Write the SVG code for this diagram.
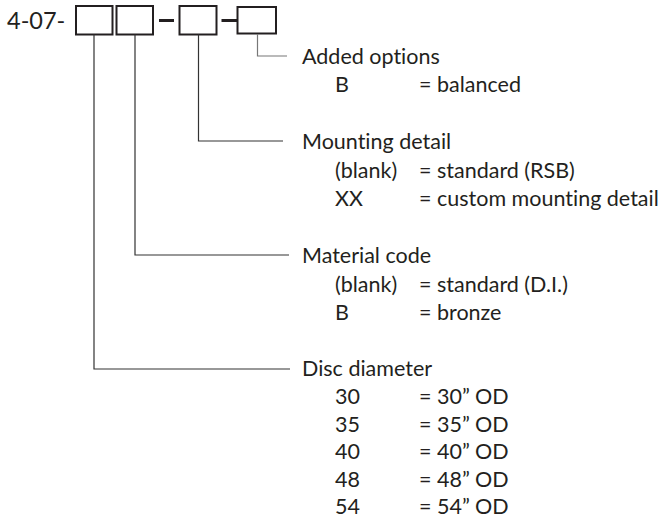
<svg xmlns="http://www.w3.org/2000/svg" width="666" height="518" viewBox="0 0 666 518">
<style>
text { font-family: Lato, "Liberation Sans", sans-serif; fill: #231f20; font-size: 21.5px; font-variant-ligatures: none; }
.code { font-size: 23.5px; }
.box { fill: #fff; stroke: #231f20; stroke-width: 2; }
.dash { stroke: #231f20; stroke-width: 3; }
.conn { fill: none; stroke: #333; stroke-width: 1.2; }
</style>
<rect width="666" height="518" fill="#fff"/>
<g id="code">
<text class="code" x="7" y="29">4-07-</text>
<rect id="box1" class="box" x="76" y="6" width="36.5" height="28.5"/>
<rect id="box2" class="box" x="116.5" y="6" width="36.5" height="28.5"/>
<line class="dash" x1="159" y1="20.5" x2="174" y2="20.5"/>
<rect id="box3" class="box" x="179.5" y="6" width="37" height="28.5"/>
<line class="dash" x1="221.5" y1="20.5" x2="237" y2="20.5"/>
<rect id="box4" class="box" x="237.5" y="7" width="38.5" height="26.5"/>
</g>
<g id="connectors">
<polyline class="conn" style="stroke:#777" points="257.5,34 257.5,56 287,56"/>
<polyline class="conn" points="198.5,34.5 198.5,141 283,141"/>
<polyline class="conn" points="135,34.5 135,255 289,255"/>
<polyline class="conn" points="94,34.5 94,369 290,369"/>
</g>
<g id="added-options">
<text x="302" y="64">Added options</text>
<text x="335" y="92">B</text><text x="419" y="92">= balanced</text>
</g>
<g id="mounting-detail">
<text x="302" y="149">Mounting detail</text>
<text x="335" y="177.5">(blank)</text><text x="419" y="177.5">= standard (RSB)</text>
<text x="335" y="205.5">XX</text><text x="419" y="205.5">= custom mounting detail</text>
</g>
<g id="material-code">
<text x="302" y="263">Material code</text>
<text x="335" y="292">(blank)</text><text x="419" y="292">= standard (D.I.)</text>
<text x="335" y="320">B</text><text x="419" y="320">= bronze</text>
</g>
<g id="disc-diameter">
<text x="302" y="376">Disc diameter</text>
<text x="335" y="404">30</text><text x="419" y="404">= 30” OD</text>
<text x="335" y="431.5">35</text><text x="419" y="431.5">= 35” OD</text>
<text x="335" y="459">40</text><text x="419" y="459">= 40” OD</text>
<text x="335" y="486.5">48</text><text x="419" y="486.5">= 48” OD</text>
<text x="335" y="514">54</text><text x="419" y="514">= 54” OD</text>
</g>
</svg>
